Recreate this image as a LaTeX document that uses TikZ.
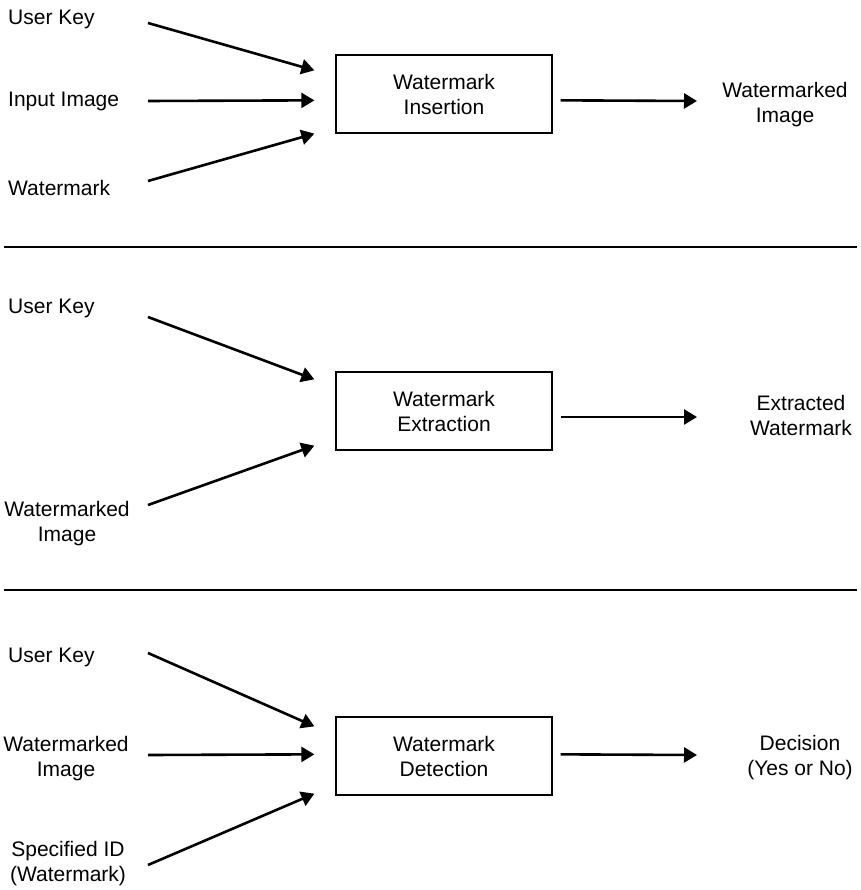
\documentclass[tikz,border=0pt]{standalone}
\usepackage{fontspec}
\setmainfont{Liberation Sans}
\usetikzlibrary{arrows.meta}

\tikzset{
  lbl/.style={inner sep=0pt, font=\fontsize{21pt}{25pt}\selectfont, align=center},
  procbox/.style={draw, line width=1.3pt, minimum width=216pt, minimum height=78pt,
                  inner sep=0pt, font=\fontsize{21pt}{25pt}\selectfont, align=center},
  flow/.style={line width=2.6pt, -{Triangle[length=13pt,width=15pt]}},
  divider/.style={line width=2.8pt}
}

\begin{document}
\begin{tikzpicture}[x=1pt,y=-1pt]
  \useasboundingbox (0,0) rectangle (860,890);

  % ---------- Insertion ----------
  \node[lbl, anchor=base west] (k1) at (8,25) {User Key};
  \node[lbl, anchor=base west] (img1) at (8,107) {Input Image};
  \node[lbl, anchor=base west] (wm1) at (8,196) {Watermark};
  \node[procbox] (ins) at (444,94) {Watermark\\Insertion};
  \node[lbl] (out1) at (785,105) {Watermarked\\Image};

  \coordinate (s11) at (148,23);
  \coordinate (s12) at (148,101);
  \coordinate (s13) at (148,181);
  \path (ins.north west) ++(-21,16) coordinate (e11);
  \path (ins.north west) ++(-21,46) coordinate (e12);
  \path (ins.south west) ++(-21,0) coordinate (e13);
  \draw[flow] (s11) -- (e11);
  \draw[flow] (s12) -- (e12);
  \draw[flow] (s13) -- (e13);
  \path (ins.east |- e12) ++(8,0) coordinate (o1s);
  \coordinate (o1e) at (697,101);
  \draw[flow] (o1s) -- (o1e);

  \coordinate (d1a) at (4,247);
  \coordinate (d1b) at (857,247);
  \draw[divider] (d1a) -- (d1b);

  % ---------- Extraction ----------
  \node[lbl, anchor=base west] (k2) at (8,313) {User Key};
  \node[lbl] (img2) at (67,524) {Watermarked\\Image};
  \node[procbox] (ext) at (444,411) {Watermark\\Extraction};
  \node[lbl] (out2) at (801,415) {Extracted\\Watermark};

  \coordinate (s21) at (148,317);
  \coordinate (s22) at (148,505);
  \path (ext.north west) ++(-21,8) coordinate (e21);
  \path (ext.south west) ++(-21,-5) coordinate (e22);
  \draw[flow] (s21) -- (e21);
  \draw[flow] (s22) -- (e22);
  \path (ext.east) ++(8,6) coordinate (o2s);
  \coordinate (o2e) at (697,417);
  \draw[flow] (o2s) -- (o2e);

  \coordinate (d2a) at (4,590);
  \coordinate (d2b) at (857,590);
  \draw[divider] (d2a) -- (d2b);

  % ---------- Detection ----------
  \node[lbl, anchor=base west] (k3) at (8,662) {User Key};
  \node[lbl] (img3) at (66,759) {Watermarked\\Image};
  \node[lbl] (id3) at (68,864) {Specified ID\\(Watermark)};
  \node[procbox] (det) at (444,756) {Watermark\\Detection};
  \node[lbl] (out3) at (800,758) {Decision\\(Yes or No)};

  \coordinate (s31) at (148,653);
  \coordinate (s32) at (148,755);
  \coordinate (s33) at (148,865);
  \path (det.north west) ++(-21,10) coordinate (e31);
  \path (det.north west) ++(-21,38) coordinate (e32);
  \path (det.south west) ++(-21,-2) coordinate (e33);
  \draw[flow] (s31) -- (e31);
  \draw[flow] (s32) -- (e32);
  \draw[flow] (s33) -- (e33);
  \path (det.east |- e32) ++(8,0) coordinate (o3s);
  \coordinate (o3e) at (697,755);
  \draw[flow] (o3s) -- (o3e);
\end{tikzpicture}
\end{document}
